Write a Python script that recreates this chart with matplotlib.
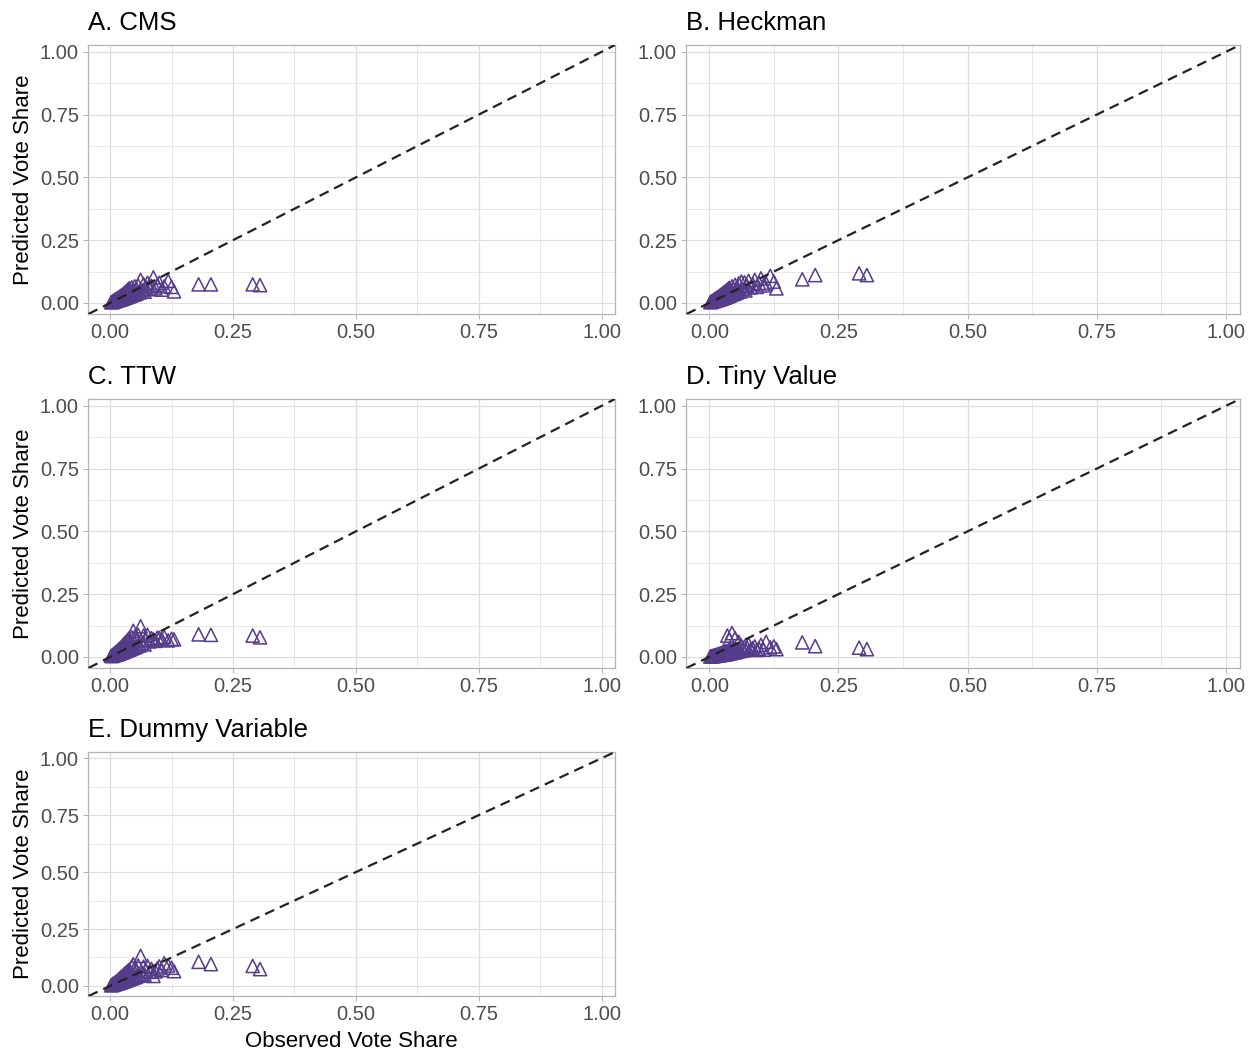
import numpy as np
import matplotlib.pyplot as plt
from matplotlib.ticker import MultipleLocator, FormatStrFormatter

plt.rcParams['font.family'] = ['Liberation Sans', 'DejaVu Sans']

# observed vote share (same parties in every model)
observed = [0.002, 0.004, 0.005, 0.006, 0.008, 0.009, 0.010, 0.011, 0.012, 0.013,
            0.014, 0.015, 0.016, 0.017, 0.018, 0.019, 0.020, 0.021, 0.022, 0.023,
            0.024, 0.025, 0.026, 0.027, 0.028, 0.029, 0.030, 0.031, 0.032, 0.033,
            0.034, 0.035, 0.036, 0.037, 0.038, 0.039, 0.040, 0.041, 0.042, 0.044,
            0.045, 0.047, 0.048, 0.050, 0.052, 0.054, 0.055, 0.057, 0.060, 0.062,
            0.065, 0.068, 0.070, 0.073, 0.076, 0.080, 0.084, 0.088, 0.092, 0.096,
            0.100, 0.105, 0.110, 0.118, 0.125, 0.130, 0.180, 0.205, 0.290, 0.305]

pred_cms = [0.003, 0.005, 0.003, 0.008, 0.006, 0.012, 0.007, 0.014, 0.009, 0.016,
            0.010, 0.019, 0.011, 0.021, 0.013, 0.024, 0.014, 0.027, 0.015, 0.030,
            0.016, 0.033, 0.018, 0.036, 0.019, 0.040, 0.021, 0.043, 0.022, 0.047,
            0.024, 0.050, 0.025, 0.055, 0.027, 0.058, 0.028, 0.045, 0.030, 0.062,
            0.032, 0.050, 0.034, 0.066, 0.036, 0.055, 0.040, 0.070, 0.042, 0.092,
            0.050, 0.075, 0.045, 0.062, 0.080, 0.055, 0.068, 0.102, 0.058, 0.072,
            0.080, 0.053, 0.066, 0.088, 0.064, 0.046, 0.074, 0.074, 0.074, 0.071]

pred_heckman = [0.003, 0.006, 0.004, 0.009, 0.007, 0.013, 0.008, 0.016, 0.010, 0.018,
                0.011, 0.021, 0.012, 0.024, 0.014, 0.027, 0.015, 0.030, 0.016, 0.033,
                0.018, 0.036, 0.019, 0.040, 0.021, 0.043, 0.022, 0.046, 0.024, 0.050,
                0.026, 0.053, 0.027, 0.057, 0.029, 0.060, 0.031, 0.050, 0.033, 0.066,
                0.035, 0.055, 0.037, 0.072, 0.040, 0.060, 0.044, 0.078, 0.046, 0.085,
                0.055, 0.082, 0.050, 0.068, 0.088, 0.062, 0.075, 0.092, 0.064, 0.080,
                0.098, 0.070, 0.078, 0.108, 0.085, 0.058, 0.094, 0.111, 0.118, 0.111]

pred_ttw = [0.004, 0.006, 0.004, 0.010, 0.007, 0.015, 0.008, 0.018, 0.010, 0.021,
            0.011, 0.025, 0.012, 0.028, 0.014, 0.032, 0.015, 0.036, 0.017, 0.040,
            0.018, 0.044, 0.020, 0.048, 0.021, 0.053, 0.023, 0.057, 0.025, 0.062,
            0.026, 0.066, 0.028, 0.070, 0.030, 0.075, 0.031, 0.060, 0.033, 0.078,
            0.035, 0.104, 0.037, 0.080, 0.040, 0.066, 0.044, 0.088, 0.046, 0.122,
            0.055, 0.085, 0.050, 0.068, 0.088, 0.062, 0.075, 0.070, 0.064, 0.077,
            0.076, 0.070, 0.080, 0.066, 0.072, 0.070, 0.090, 0.088, 0.085, 0.078]

pred_tiny = [0.002, 0.003, 0.002, 0.004, 0.003, 0.006, 0.004, 0.007, 0.005, 0.008,
             0.005, 0.010, 0.006, 0.011, 0.007, 0.012, 0.007, 0.014, 0.008, 0.015,
             0.009, 0.017, 0.009, 0.018, 0.010, 0.020, 0.011, 0.022, 0.011, 0.024,
             0.012, 0.085, 0.013, 0.026, 0.014, 0.070, 0.015, 0.030, 0.016, 0.095,
             0.017, 0.032, 0.018, 0.075, 0.020, 0.030, 0.022, 0.060, 0.024, 0.045,
             0.026, 0.040, 0.028, 0.038, 0.050, 0.030, 0.035, 0.042, 0.028, 0.033,
             0.048, 0.029, 0.060, 0.038, 0.042, 0.031, 0.058, 0.043, 0.037, 0.031]

pred_dummy = [0.003, 0.006, 0.004, 0.010, 0.007, 0.014, 0.008, 0.017, 0.010, 0.020,
              0.011, 0.024, 0.012, 0.028, 0.014, 0.032, 0.015, 0.036, 0.017, 0.040,
              0.018, 0.044, 0.020, 0.048, 0.021, 0.052, 0.023, 0.056, 0.025, 0.060,
              0.026, 0.064, 0.028, 0.068, 0.030, 0.072, 0.031, 0.058, 0.033, 0.085,
              0.035, 0.095, 0.037, 0.078, 0.040, 0.066, 0.044, 0.090, 0.046, 0.132,
              0.055, 0.085, 0.050, 0.068, 0.088, 0.062, 0.075, 0.044, 0.064, 0.077,
              0.086, 0.070, 0.100, 0.090, 0.080, 0.065, 0.106, 0.096, 0.088, 0.074]

panels = [
    ('A. CMS', pred_cms),
    ('B. Heckman', pred_heckman),
    ('C. TTW', pred_ttw),
    ('D. Tiny Value', pred_tiny),
    ('E. Dummy Variable', pred_dummy),
]

# axes boxes in pixels: left, top, right, bottom
W, H = 1258, 1055
boxes = [
    (88, 45, 615, 314),
    (686, 45, 1240, 314),
    (88, 399, 615, 668),
    (686, 399, 1240, 668),
    (88, 752, 615, 996),
]

purple = '#553c8b'
grid_col = '#dedede'
border_col = '#b3b3b3'

fig = plt.figure(figsize=(W / 100, H / 100), dpi=100)

for i, ((title, pred), (x0, y0, x1, y1)) in enumerate(zip(panels, boxes)):
    ax = fig.add_axes([x0 / W, 1 - y1 / H, (x1 - x0) / W, (y1 - y0) / H])
    ax.scatter(observed, pred, marker='^', s=90, facecolors='none',
               edgecolors=purple, linewidths=1.1, zorder=3)
    ax.axline((0, 0), slope=1, color='#222222', linestyle=(0, (4.5, 2.8)),
              linewidth=1.6, zorder=4)

    ax.set_xlim(-0.045, 1.027)
    ax.set_ylim(-0.044, 1.027)
    ax.xaxis.set_major_locator(MultipleLocator(0.25))
    ax.yaxis.set_major_locator(MultipleLocator(0.25))
    ax.xaxis.set_minor_locator(MultipleLocator(0.125))
    ax.yaxis.set_minor_locator(MultipleLocator(0.125))
    ax.xaxis.set_major_formatter(FormatStrFormatter('%.2f'))
    ax.yaxis.set_major_formatter(FormatStrFormatter('%.2f'))
    ax.grid(True, which='major', color=grid_col, linewidth=0.9, zorder=0)
    ax.grid(True, which='minor', color=grid_col, linewidth=0.5, zorder=0)
    ax.set_axisbelow(True)
    ax.tick_params(which='major', length=3.5, width=0.7, color=border_col,
                   labelsize=14.5, labelcolor='#4d4d4d', pad=3)
    ax.tick_params(which='minor', length=0)
    for s in ax.spines.values():
        s.set_color(border_col)
        s.set_linewidth(0.9)

    ax.set_title(title, loc='left', fontsize=18.5, color='black', pad=11)
    if i % 2 == 0:
        ax.set_ylabel('Predicted Vote Share', fontsize=16, labelpad=4)
    if i == 4:
        ax.set_xlabel('Observed Vote Share', fontsize=16, labelpad=5)

fig.savefig('out.png', dpi=100)
